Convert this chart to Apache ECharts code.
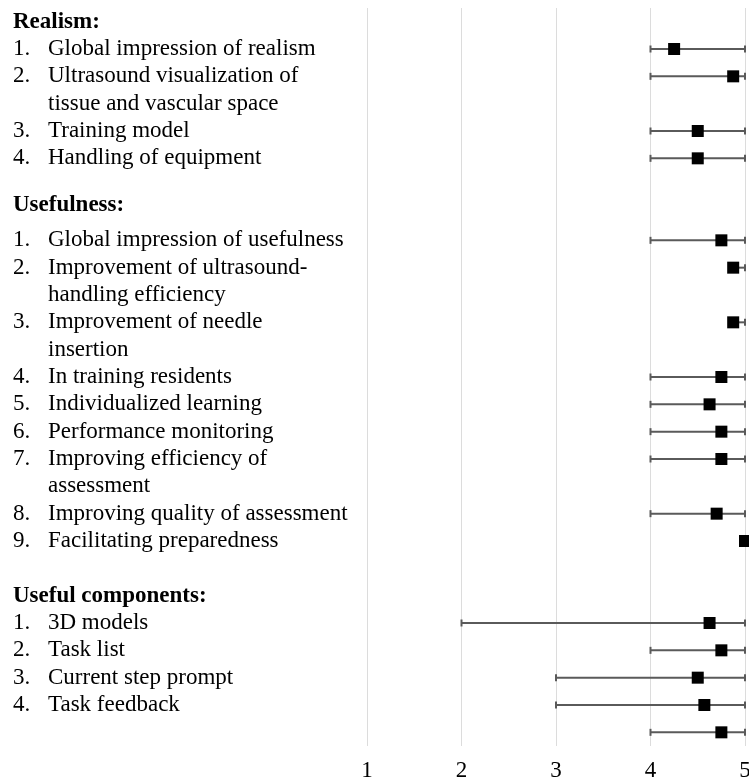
<!DOCTYPE html>
<html>
<head>
<meta charset="utf-8">
<script src="https://cdn.jsdelivr.net/npm/echarts@6/dist/echarts.min.js"></script>
<style>
html,body{margin:0;padding:0;background:#fff;overflow:hidden;}
#chart{width:749px;height:781px;}
</style>
</head>
<body>
<div id="chart"></div>
<script>
// Row labels (top to bottom); headers end with ':'; continuation lines have no number
const rowLabels = [
  "Realism:",
  "1. Global impression of realism",
  "2. Ultrasound visualization of",
  "tissue and vascular space",
  "3. Training model",
  "4. Handling of equipment",
  "",
  "Usefulness:",
  "1. Global impression of usefulness",
  "2. Improvement of ultrasound-",
  "handling efficiency",
  "3. Improvement of needle",
  "insertion",
  "4. In training residents",
  "5. Individualized learning",
  "6. Performance monitoring",
  "7. Improving efficiency of",
  "assessment",
  "8. Improving quality of assessment",
  "9. Facilitating preparedness",
  " ",
  "Useful components:",
  "1. 3D models",
  "2. Task list",
  "3. Current step prompt",
  "4. Task feedback",
  "  "
];
// Mean score per row (null = no marker)
const meanValues = [null, 4.25, 4.875, null, 4.5, 4.5, null,
  null, 4.75, 4.875, null, 4.875, null, 4.75, 4.625, 4.75, 4.75, null, 4.7, 5, null,
  null, 4.625, 4.75, 4.5, 4.57, 4.75];
// Range low / high per row (null = no bar)
const lowValues = [null, 4, 4, null, 4, 4, null,
  null, 4, 4.875, null, 4.875, null, 4, 4, 4, 4, null, 4, null, null,
  null, 2, 4, 3, 3, 4];
const highValues = [null, 5, 5, null, 5, 5, null,
  null, 5, 5, null, 5, null, 5, 5, 5, 5, null, 5, null, null,
  null, 5, 5, 5, 5, 5];
const xTicks = [1, 2, 3, 4, 5];

const scatterData = [];
const barData = [];
meanValues.forEach((v, i) => { if (v !== null) scatterData.push([v, i]); });
lowValues.forEach((lo, i) => { if (lo !== null) barData.push([lo, highValues[i], i]); });

const chart = echarts.init(document.getElementById('chart'));
const serif = '"Liberation Serif", "Times New Roman", serif';

chart.setOption({
  animation: false,
  backgroundColor: '#fff',
  grid: { left: 367, right: 4, top: 8, bottom: 35, containLabel: false, outerBoundsMode: 'none' },
  xAxis: {
    type: 'value', min: xTicks[0], max: xTicks[xTicks.length - 1], interval: 1,
    axisLine: { show: false }, axisTick: { show: false },
    splitLine: { show: true, lineStyle: { color: '#dcdcdc', width: 1 } },
    axisLabel: { color: '#000', fontFamily: serif, fontSize: 23, margin: 13,
      formatter: v => xTicks.includes(v) ? String(v) : '' }
  },
  yAxis: {
    type: 'category', inverse: true, data: rowLabels,
    axisLine: { show: false }, axisTick: { show: false }, splitLine: { show: false },
    axisLabel: {
      interval: 0, align: 'left', margin: 354, color: '#000',
      fontFamily: serif, fontSize: 23,
      formatter: function (s) {
        const t = s.trim();
        if (!t) return '';
        if (t.endsWith(':')) return t === 'Usefulness:' ? '{h2|' + t + '}' : '{h|' + t + '}';
        const m = t.match(/^(\d+\.)\s+(.*)$/);
        if (m) return '{n|' + m[1] + '}{t|' + m[2] + '}';
        return '{c|' + t + '}';
      },
      rich: {
        h: { fontFamily: serif, fontSize: 23, fontWeight: 'bold', color: '#000' },
        h2: { fontFamily: serif, fontSize: 23, fontWeight: 'bold', color: '#000', padding: [0, 0, 16, 0] },
        n: { fontFamily: serif, fontSize: 23, color: '#000', width: 35 },
        t: { fontFamily: serif, fontSize: 23, color: '#000' },
        c: { fontFamily: serif, fontSize: 23, color: '#000', padding: [0, 0, 0, 35] }
      }
    }
  },
  series: [
    {
      type: 'custom',
      data: barData,
      encode: { x: [0, 1], y: 2 },
      clip: false,
      renderItem: function (params, api) {
        const y = api.value(2);
        const p1 = api.coord([api.value(0), y]);
        const p2 = api.coord([api.value(1), y]);
        const st = { stroke: '#5a5a5a', lineWidth: 2 };
        const cap = 3.5;
        return {
          type: 'group',
          children: [
            { type: 'line', shape: { x1: p1[0], y1: p1[1], x2: p2[0], y2: p2[1] }, style: st },
            { type: 'line', shape: { x1: p1[0], y1: p1[1] - cap, x2: p1[0], y2: p1[1] + cap }, style: st },
            { type: 'line', shape: { x1: p2[0], y1: p2[1] - cap, x2: p2[0], y2: p2[1] + cap }, style: st }
          ]
        };
      },
      z: 2
    },
    {
      type: 'scatter',
      data: scatterData,
      symbol: 'rect',
      symbolSize: 12,
      itemStyle: { color: '#000', opacity: 1 },
      clip: false,
      z: 3
    }
  ]
});
</script>
</body>
</html>
